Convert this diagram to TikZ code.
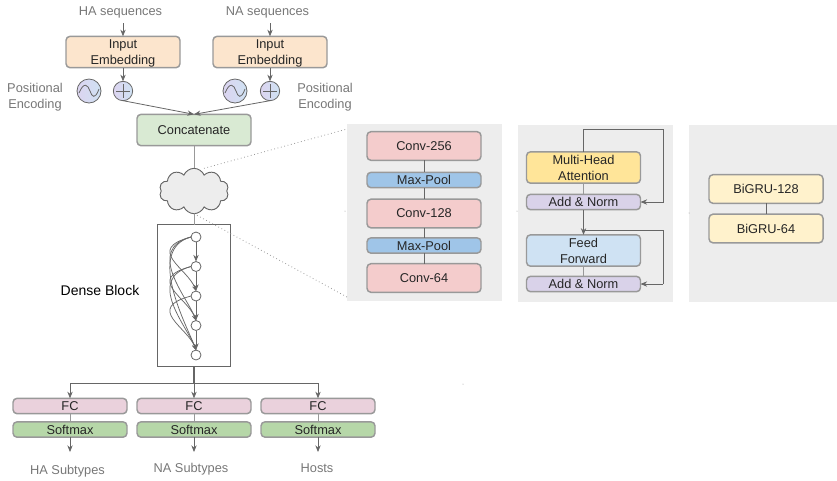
\documentclass[tikz,border=0pt]{standalone}
\usepackage{fontspec}
\setmainfont{Liberation Sans}
\usetikzlibrary{arrows.meta,calc,shapes.symbols}
\definecolor{linec}{HTML}{666666}
\definecolor{edgec}{HTML}{999999}
\definecolor{labelc}{HTML}{777777}
\definecolor{cEmbed}{HTML}{FCE5CD}
\definecolor{cConcat}{HTML}{D9EAD3}
\definecolor{cConv}{HTML}{F4CCCC}
\definecolor{cPool}{HTML}{9FC5E8}
\definecolor{cAttn}{HTML}{FFE599}
\definecolor{cNorm}{HTML}{D9D2E9}
\definecolor{cFeed}{HTML}{CFE2F3}
\definecolor{cGru}{HTML}{FFF2CC}
\definecolor{cFc}{HTML}{EAD1DC}
\definecolor{cSoft}{HTML}{B6D7A8}
\definecolor{cPurple}{HTML}{DCD4F0}
\tikzset{
  x=0.75pt,y=-0.75pt,
  every node/.style={font=\fontsize{9.6pt}{12pt}\selectfont,text=black!85,inner sep=0pt,outer sep=0pt,align=center},
  box/.style={draw=edgec,line width=1.1pt,rounded corners=3pt,minimum width=85.5pt},
  tallbox/.style={box,minimum height=23.5pt},
  midbox/.style={box,minimum height=21.5pt},
  thinbox/.style={box,minimum height=11.5pt},
  panel/.style={fill=black!7,draw=none},
  lab/.style={text=labelc,text depth=0pt},
  wire/.style={draw=linec,line width=0.6pt},
  soft/.style={draw=edgec,line width=0.7pt},
  arrow/.style={wire,-{Stealth[length=5pt,width=4pt]}},
  dotline/.style={draw=edgec,line width=0.6pt,dotted},
  dn/.style={circle,draw=linec,fill=white,line width=0.6pt,minimum size=7.5pt},
  dcurve/.style={draw=linec,line width=0.55pt,-{Stealth[length=4pt,width=3.2pt]}},
  pecirc/.style={circle,draw=linec,line width=0.6pt,left color=cPurple,right color=cFeed},
}
\begin{document}
\begin{tikzpicture}
\useasboundingbox (0,0) rectangle (837,480);
% panels
\node[panel,minimum width=116.25pt,minimum height=132.75pt] (p1) at (424.5,212.5) {};
\node[panel,minimum width=116.25pt,minimum height=132.75pt] (p2) at (595.5,213.5) {};
\node[panel,minimum width=111pt,minimum height=132.75pt] (p3) at (763,213.5) {};
% labels top
\node[lab] (ha) at (120.5,11) {HA sequences};
\node[lab] (na) at (267.5,11) {NA sequences};
% embedding
\node[tallbox,fill=cEmbed,text depth=0pt] (ie1) at (123,52) {Input\\Embedding};
\node[tallbox,fill=cEmbed,text depth=0pt] (ie2) at (270,52) {Input\\Embedding};
% pos enc
\node[pecirc,minimum size=18pt] (s1) at (89,91) {};
\node[pecirc,minimum size=18pt] (s2) at (235,91) {};
\node[pecirc,minimum size=14.5pt] (a1) at (123,91) {};
\node[pecirc,minimum size=14.5pt] (a2) at (270,91) {};
\foreach \n in {s1,s2}{
  \draw[linec,line width=0.6pt] ($(\n)+(-10,2)$) .. controls ($(\n)+(-5,-10)$) and ($(\n)+(-1,-6)$) .. ($(\n)+(1,0)$) .. controls ($(\n)+(3,6)$) and ($(\n)+(6,9)$) .. ($(\n)+(10,-2)$);
}
\foreach \n in {a1,a2}{
  \draw[linec,line width=0.5pt] ($(\n)+(-7,0)$) -- ($(\n)+(7,0)$) ($(\n)+(0,-7)$) -- ($(\n)+(0,7)$);
}
\node[lab] (pe1) at (35,96) {Positional\\Encoding};
\node[lab] (pe2) at (325,96) {Positional\\Encoding};
\node[box,fill=cConcat,minimum height=23.5pt] (cc) at (194,130) {Concatenate};
% cloud
\node[cloud,draw=linec,fill=black!7,line width=0.7pt,cloud puffs=10,cloud puff arc=135,aspect=1.5,minimum width=52pt,minimum height=34pt] (cl) at (194,191) {};
% dense
\node[draw=linec,line width=0.8pt,fill=white,minimum width=55pt,minimum height=106pt] (db) at (194,295.5) {};
\node[font=\fontsize{10.5pt}{12pt}\selectfont,text=black] (dbl) at (100,290) {Dense Block};
\node[dn] (d1) at (196,237) {};
\node[dn] (d2) at (196,266.5) {};
\node[dn] (d3) at (196,296) {};
\node[dn] (d4) at (196,325.5) {};
\node[dn] (d5) at (196,355) {};
\draw[arrow] (d1) -- (d2);
\draw[arrow] (d2) -- (d3);
\draw[arrow] (d3) -- (d4);
\draw[arrow] (d4) -- (d5);
\foreach \a/\b in {1/3,1/4,1/5,2/4,2/5,3/5}{
  \draw[dcurve] (d\a.west) to[out=195,in=110,out distance=36pt,in distance=18pt] (d\b.north);
}
% bottom
\node[thinbox,fill=cFc] (f1) at (70,406) {FC};
\node[thinbox,fill=cFc] (f2) at (194,406) {FC};
\node[thinbox,fill=cFc] (f3) at (318,406) {FC};
\node[thinbox,fill=cSoft] (m1) at (70,429.5) {Softmax};
\node[thinbox,fill=cSoft] (m2) at (194,429.5) {Softmax};
\node[thinbox,fill=cSoft] (m3) at (318,429.5) {Softmax};
\coordinate (o1) at (70,452);
\coordinate (o2) at (194,452);
\coordinate (o3) at (318,452);
\coordinate (bus) at (194,383);
\node[lab] (t1) at (67.5,470) {HA Subtypes};
\node[lab] (t2) at (191,468) {NA Subtypes};
\node[lab] (t3) at (317,468) {Hosts};
% panel 1
\node[midbox,fill=cConv] (c1) at (424,146) {Conv-256};
\node[thinbox,fill=cPool] (mp1) at (424,180) {Max-Pool};
\node[midbox,fill=cConv] (c2) at (424,213.5) {Conv-128};
\node[thinbox,fill=cPool] (mp2) at (424,245.5) {Max-Pool};
\node[midbox,fill=cConv] (c3) at (424,278) {Conv-64};
% panel 2
\node[tallbox,fill=cAttn] (mh) at (583.5,167.5) {Multi-Head\\Attention};
\node[thinbox,fill=cNorm] (an1) at (583.5,202) {Add \& Norm};
\node[tallbox,fill=cFeed] (ff) at (583.5,250.5) {Feed\\Forward};
\node[thinbox,fill=cNorm] (an2) at (583.5,284) {Add \& Norm};
% panel 3
\node[midbox,fill=cGru] (g1) at (766,189) {BiGRU-128};
\node[midbox,fill=cGru] (g2) at (766,228.5) {BiGRU-64};
% connectors
\draw[arrow] (ie1.north |- 0,23) -- (ie1.north);
\draw[arrow] (ie2.north |- 0,23) -- (ie2.north);
\draw[arrow] (ie1.south) -- (a1.north);
\draw[arrow] (ie2.south) -- (a2.north);
\draw[arrow] (a1.south) -- (cc.north);
\draw[arrow] (a2.south) -- (cc.north);
\draw[soft] (cc.south) -- (cl.north);
\draw[soft] (cl.south) -- (db.north);
\draw[wire,line width=0.9pt] (db.south) -- (bus);
\draw[arrow] (bus) -- (f2.north);
\draw[arrow] (bus) -| (f1.north);
\draw[arrow] (bus) -| (f3.north);
\draw[wire] (c1) -- (mp1);
\draw[wire] (mp1) -- (c2);
\draw[wire] (c2) -- (mp2);
\draw[wire] (mp2) -- (c3);
\draw[soft] (mh) -- (an1);
\draw[soft] (ff) -- (an2);
\draw[wire] (g1) -- (g2);
\coordinate (sk1) at (583.5,129);
\coordinate (sk2) at (663,129);
\coordinate (sk3) at (663,202);
\coordinate (sk4) at (663,230);
\coordinate (sk5) at (663,284);
\coordinate (sk6) at (583.5,230);
\draw[arrow] (mh.north) -- (sk1) -- (sk2) -- (sk3) -- (an1.east);
\draw[arrow] (an1.south) -- (ff.north);
\draw[wire] (sk6) -- (sk4) -- (sk5);
\draw[arrow] (sk5) -- (an2.east);
\foreach \i in {1,2,3}{
  \draw[soft] (f\i) -- (m\i);
  \draw[arrow] (m\i.south) -- (o\i);
}
\draw[dotline] (cl.north) ++(10,0) -- ($(p1.north west)+(0,5)$);
\draw[dotline] (cl.south) -- ($(p1.south west)+(0,-4)$);
\fill[edgec] (345,211) circle (0.5) (517,211) circle (0.5) (689,213) circle (0.5) (463,384) circle (0.5);
\end{tikzpicture}
\end{document}
